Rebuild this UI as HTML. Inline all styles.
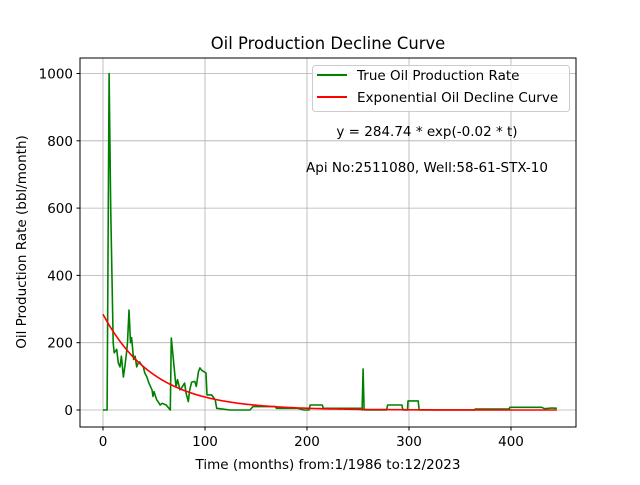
<!DOCTYPE html>
<html><head><meta charset="utf-8"><style>
body{margin:0;background:#fff}
svg text{font-family:"DejaVu Sans","Liberation Sans",sans-serif;fill:#000}
</style></head><body>
<svg id="chart" width="640" height="480" viewBox="0 0 640 480" xmlns="http://www.w3.org/2000/svg">
<rect width="640" height="480" fill="#fff"/>
<text x="328" y="49" font-size="16.4" text-anchor="middle">Oil Production Decline Curve</text>
<g id="grid"></g>
<g id="ticks"></g>
<g id="series"></g>
<rect x="80" y="58" width="496" height="369" fill="none" stroke="#000" stroke-width="1"/>
<text x="328" y="469" font-size="13.5" text-anchor="middle">Time (months) from:1/1986 to:12/2023</text>
<text transform="translate(26,242) rotate(-90)" font-size="13.5" text-anchor="middle">Oil Production Rate (bbl/month)</text>
<g>
<rect x="312.5" y="65.5" width="257" height="46" rx="3" fill="#fff" fill-opacity="0.8" stroke="#ccc"/>
<line x1="317" y1="75" x2="347" y2="75" stroke="green" stroke-width="2"/>
<text x="357" y="80" font-size="13.5">True Oil Production Rate</text>
<line x1="317" y1="97" x2="347" y2="97" stroke="red" stroke-width="2"/>
<text x="357" y="102" font-size="13.5">Exponential Oil Decline Curve</text>
</g>
<text x="427" y="136" font-size="13.5" text-anchor="middle">y = 284.74 * exp(-0.02 * t)</text>
<text x="427" y="172" font-size="13.5" text-anchor="middle">Api No:2511080, Well:58-61-STX-10</text>
</svg>
<script>
const xTicks=[0,100,200,300,400];
const yTicks=[0,200,400,600,800,1000];
const months=[0,4,6,7.5,10,11,13.4,15,16.7,18,20,21.5,23,24,25.5,27,28,30,31.5,33,34.5,36,37.5,39.5,41,43,45,48,49,50,52.6,54,56,58,62,66,67,69,71.6,73,75.5,77,80,81.5,83.6,85,87,90,91.5,93.5,95,96.8,101,102,106.5,110,111.5,124.5,144,147,169,170,191,197,202,203,215,216,253,254,255,256,278,279,293,294,298.5,299,309,310,364,365,398,399,430,433,440,445];
const rates=[0,0,1000,600,200,170,180,140,128,160,98,130,170,200,297,200,215,150,160,128,140,143,135,128,110,98,80,60,40,55,30,25,15,20,15,0,214,150,68,90,60,65,80,50,25,60,83,85,70,113,125,118,110,45,45,30,5,0,0,10,10,5,5,0,0,15,15,5,5,0,122,0,0,15,15,0,0,27,27,0,0,3,3,8,8,4,6,5];
const fitA=284.74, fitK=0.02, fitEnd=445;
const NS="http://www.w3.org/2000/svg";
const x0=103,pxPerX=1.02,y0=410,pxPerY=0.3365;
const X=v=>x0+v*pxPerX, Y=v=>y0-v*pxPerY;
const grid=document.getElementById('grid'),ticks=document.getElementById('ticks'),series=document.getElementById('series');
function mk(tag,attrs,parent){const e=document.createElementNS(NS,tag);for(const k in attrs)e.setAttribute(k,attrs[k]);parent.appendChild(e);return e;}
xTicks.forEach(t=>{
 const g=mk('line',{x1:X(t),x2:X(t),y1:58,y2:427,stroke:'#b0b0b0','stroke-width':0.8},grid);
 
 
 const tk=mk('line',{x1:X(t),x2:X(t),y1:427,y2:430.5,stroke:'#000'},ticks);
 
 
 const tx=mk('text',{x:X(t),y:446,'font-size':13.5,'text-anchor':'middle'},ticks);
 tx.textContent=t;
 
 
});
yTicks.forEach(t=>{
 const g=mk('line',{x1:80,x2:576,y1:Y(t),y2:Y(t),stroke:'#b0b0b0','stroke-width':0.8},grid);
 
 
 const tk=mk('line',{x1:76.5,x2:80,y1:Y(t),y2:Y(t),stroke:'#000'},ticks);
 
 
 const tx=mk('text',{x:73,y:Y(t)+5,'font-size':13.5,'text-anchor':'end'},ticks);
 tx.textContent=t;
 
 
});
let d=months.map((m,i)=>(i?'L':'M')+X(m).toFixed(1)+' '+Y(rates[i]).toFixed(1)).join(' ');
const p1=mk('path',{d:d,fill:'none',stroke:'green','stroke-width':1.6,'stroke-linejoin':'round'},series);


let fd='';
for(let t=0;t<=fitEnd;t+=1){fd+=(t?'L':'M')+X(t).toFixed(1)+' '+Y(fitA*Math.exp(-fitK*t)).toFixed(1)+' ';}
const p2=mk('path',{d:fd,fill:'none',stroke:'red','stroke-width':1.6},series);


</script>
</body></html>
